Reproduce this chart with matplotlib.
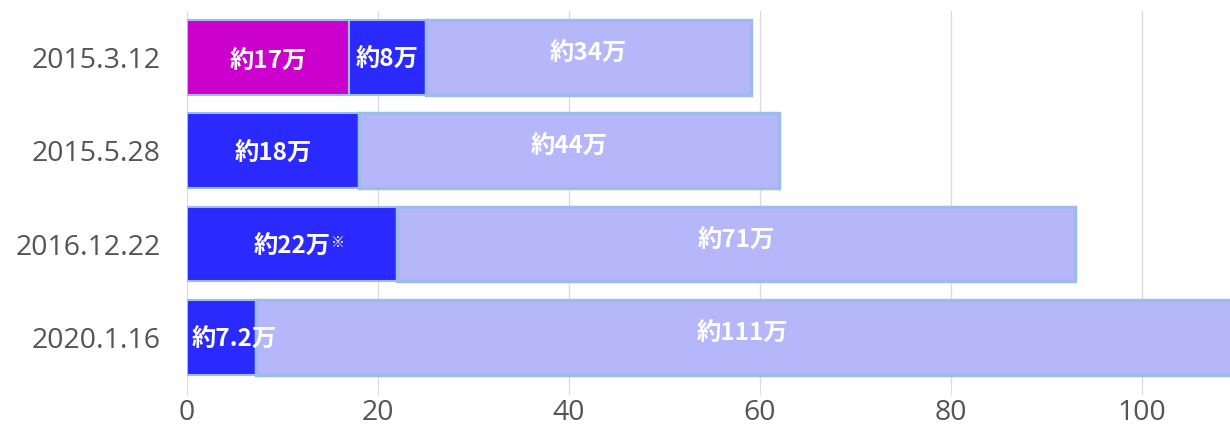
import matplotlib
matplotlib.use('Agg')
from matplotlib import pyplot as plt

# Data (units: 万)
dates = ['2015.3.12', '2015.5.28', '2016.12.22', '2020.1.16']
magenta_vals = [17, 0, 0, 0]
blue_vals = [8, 18, 22, 7.2]
light_vals = [34, 44, 71, 111]
magenta_labels = ['約17万', '', '', '']
blue_labels = ['約8万', '約18万', '約22万', '約7.2万']
light_labels = ['約34万', '約44万', '約71万', '約111万']
xticks = [0, 20, 40, 60, 80, 100]

plt.rcParams['font.family'] = ['Open Sans', 'DejaVu Sans']
label_font = ['Noto Sans CJK JP', 'DejaVu Sans']

fig = plt.figure(figsize=(12.3, 4.33), dpi=100)
ax = fig.add_axes([0.152, 0.113, 0.848, 0.862])
xmax = 109.2

y = list(range(len(dates)))
left_blue = magenta_vals
left_light = [m + b for m, b in zip(magenta_vals, blue_vals)]

edge = '#9cbdec'
ax.barh(y, magenta_vals, height=0.8, color='#cc00cc', edgecolor=edge, linewidth=1.5, zorder=2)
ax.barh(y, blue_vals, left=left_blue, height=0.8, color='#2a2aff', edgecolor=edge, linewidth=1.5, zorder=2)
ax.barh(y, light_vals, left=left_light, height=0.8, color='#b6b6fa', edgecolor=edge, linewidth=2.5, zorder=2)

text_kw = dict(color='white', fontsize=17.5, fontweight='bold', family=label_font,
               va='center', zorder=3)

for i in y:
    if magenta_vals[i]:
        ax.text(magenta_vals[i] / 2, i + 0.05, magenta_labels[i], ha='center', **text_kw)
    mid = left_blue[i] + blue_vals[i] / 2
    t = ax.text(max(mid, 4.9), i + 0.03, blue_labels[i], ha='center', **text_kw)
    if i == 2:
        ax.annotate('※', xy=(1, 0.95), xycoords=t, va='top', ha='left',
                    color='white', fontsize=10, family=label_font, zorder=3)
    end = min(left_light[i] + light_vals[i], xmax)
    ax.text((left_light[i] + end) / 2, i - 0.04, light_labels[i], ha='center', **text_kw)

ax.set_xlim(0, xmax)
ax.set_ylim(len(dates) - 0.5, -0.5)
ax.set_yticks(y)
ax.set_yticklabels(dates)
ax.set_xticks(xticks)

ax.grid(axis='x', color='#dcdcdc', linewidth=1, zorder=0)
for s in ax.spines.values():
    s.set_visible(False)
ax.tick_params(axis='x', length=8, color='#dcdcdc', labelcolor='#555555', labelsize=20.5, pad=3)
ax.tick_params(axis='y', length=0, labelcolor='#555555', labelsize=20.5, pad=19)

fig.savefig('out.png', dpi=100)
